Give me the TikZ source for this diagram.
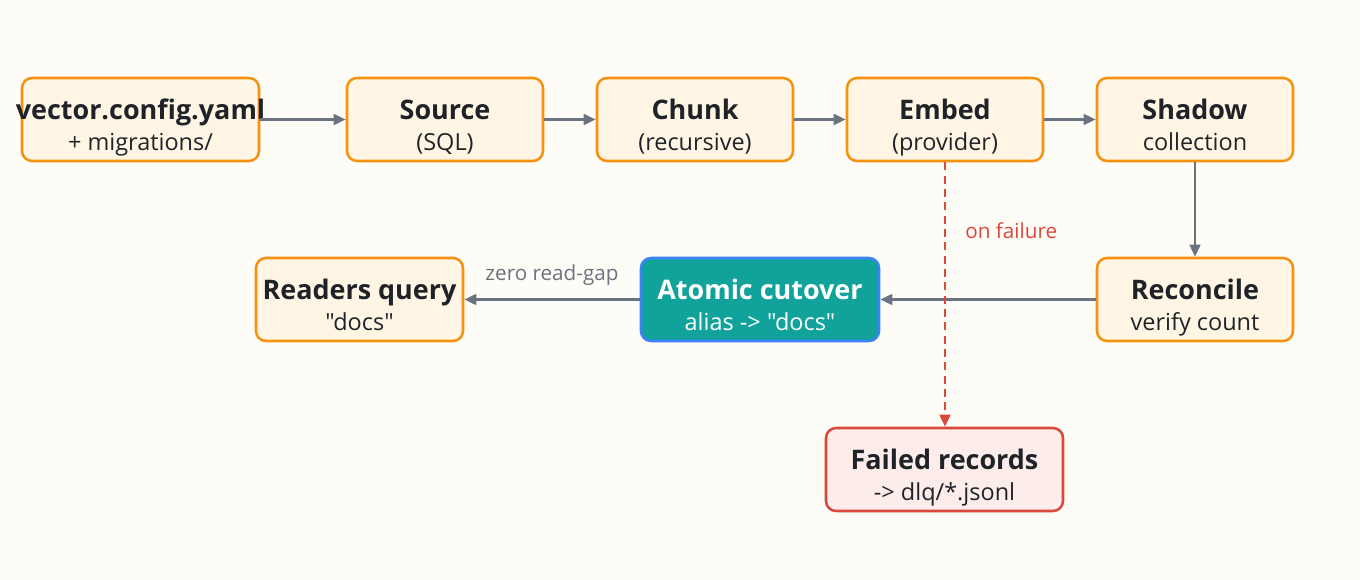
\documentclass[tikz,border=0pt]{standalone}
\usepackage{fontspec}
\setmainfont{Open Sans}[Ligatures=TeXOff]
\usetikzlibrary{arrows.meta}
\definecolor{bg}{HTML}{FEFCF6}
\definecolor{boxfill}{HTML}{FFF5E5}
\definecolor{boxline}{HTML}{F5920F}
\definecolor{teal}{HTML}{11A39B}
\definecolor{tealline}{HTML}{3B82F6}
\definecolor{failfill}{HTML}{FCEDEA}
\definecolor{failline}{HTML}{D9483B}
\definecolor{arr}{HTML}{6B7280}
\definecolor{ink}{HTML}{1F2328}
\tikzset{
  x=0.75pt, y=-0.75pt,
  stage/.style={draw=boxline, fill=boxfill, line width=1.9pt, rounded corners=7.5pt,
    minimum width=#1*0.75pt, minimum height=62.25pt, align=center, text=ink, inner sep=0pt,
    font=\fontsize{17.6}{23.25}\selectfont},
  stage/.default=196,
  cut/.style={stage=238, draw=tealline, fill=teal, text=white},
  fail/.style={stage=237, draw=failline, fill=failfill},
  flow/.style={draw=arr, line width=1.9pt, -{Triangle[length=9pt,width=8pt]}},
  failflow/.style={draw=failline, line width=1.9pt, dash pattern=on 6pt off 4pt, -{Triangle[length=9pt,width=8pt]}},
  lbl/.style={font=\fontsize{15.5}{18}\selectfont},
}
\newcommand{\twol}[2]{{\fontsize{20.2}{23.25}\selectfont\bfseries\rule{0pt}{28.25pt}#1}\\\rule[-5pt]{0pt}{5pt}#2}
\begin{document}
\begin{tikzpicture}
\fill[bg] (0,0) rectangle (1360,580);
\useasboundingbox (0,0) rectangle (1360,580);
\node[stage=237] (cfg) at (140.5,119.5) {\twol{\makebox[0pt]{vector.config.yaml}}{+ migrations/}};
\node[stage] (src) at (445,119.5) {\twol{Source}{(SQL)}};
\node[stage] (chk) at (695,119.5) {\twol{Chunk}{(recursive)}};
\node[stage] (emb) at (945,119.5) {\twol{Embed}{(provider)}};
\node[stage] (shd) at (1195,119.5) {\twol{Shadow}{collection}};
\node[stage] (rec) at (1195,299.5) {\twol{Reconcile}{verify count}};
\node[cut] (cut) at (760,299.5) {\twol{Atomic cutover}{alias -> "docs"}};
\node[stage=207] (rdr) at (359.5,299.5) {\twol{Readers query}{"docs"}};
\node[fail] (dlq) at (944.5,469.5) {\twol{Failed records}{-> dlq/*.jsonl}};
\draw[flow] (cfg) -- (src);
\draw[flow] (src) -- (chk);
\draw[flow] (chk) -- (emb);
\draw[flow] (emb) -- (shd);
\draw[flow] (shd) -- (rec);
\draw[flow] (rec) -- (cut);
\draw[flow] (cut) -- node[above=6pt, lbl, text=arr] {zero read-gap} (rdr);
\draw[failflow] (emb.south) -- node[right=11pt, pos=0.26, lbl, text=failline] {on failure} (emb.south |- dlq.north);
\end{tikzpicture}
\end{document}
